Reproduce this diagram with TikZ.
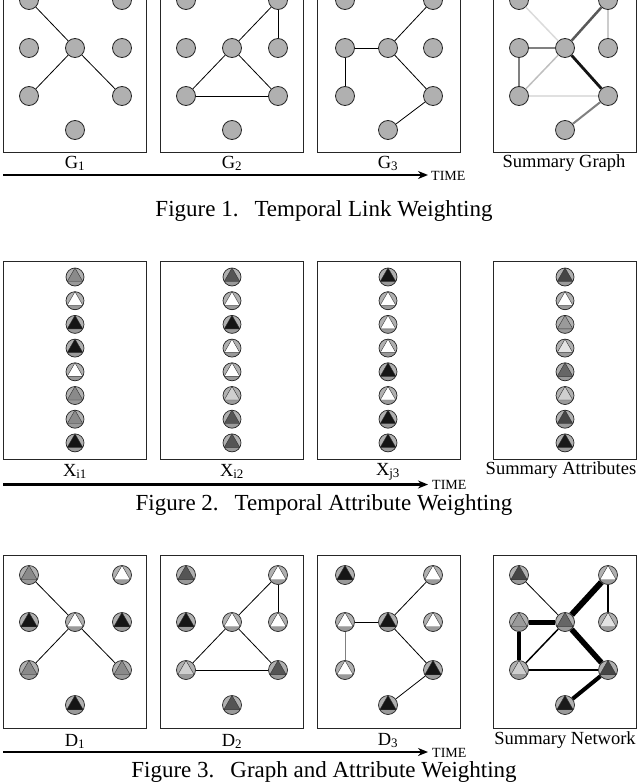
\documentclass[tikz,border=0pt]{standalone}
\usepackage{fontspec}
\setmainfont{Liberation Serif}
\usetikzlibrary{calc,arrows.meta}

\definecolor{nodegray}{HTML}{B0B0B0}
\definecolor{seggray}{HTML}{9A9A9A}
\definecolor{cA}{HTML}{8A8A8A}
\definecolor{cB}{HTML}{555555}
\definecolor{cK}{HTML}{151515}
\definecolor{cL}{HTML}{CFCFCF}
\definecolor{sA}{HTML}{454545}
\definecolor{sB}{HTML}{9A9A9A}
\definecolor{sC}{HTML}{E2E2E2}
\definecolor{sD}{HTML}{666666}
\definecolor{sE}{HTML}{1A1A1A}

\tikzset{
  panelbox/.style={draw=black!85, line width=0.9pt},
  gnode/.style={circle, draw=black!85, line width=0.8pt, fill=nodegray, minimum size=19pt, inner sep=0pt},
  anode/.style={circle, draw=black!85, line width=0.7pt, fill=nodegray, minimum size=19pt, inner sep=0pt,
    path picture={
      \fill[seggray] (path picture bounding box.south west) rectangle ($(path picture bounding box.east)!0.5!(path picture bounding box.south east)$);
      \filldraw[fill=#1, draw=black!80, line width=0.4pt] (path picture bounding box.north)
        -- ($(path picture bounding box.center)!1!120:(path picture bounding box.north)$)
        -- ($(path picture bounding box.center)!1!-120:(path picture bounding box.north)$) -- cycle;
    }},
  linkline/.style={draw=black, line width=0.8pt},
  lbltext/.style={font=\fontsize{18.5}{20}\selectfont, anchor=base, inner sep=0pt},
  captext/.style={font=\fontsize{23}{25}\selectfont, anchor=base, inner sep=0pt},
  timetext/.style={font=\fontsize{14}{16}\selectfont, anchor=base west, inner sep=0pt},
  timearrow/.style={line width=2.4pt, -{Stealth[length=10pt,width=8pt]}},
}

\begin{document}
\begin{tikzpicture}[x=1pt,y=-1pt]
\useasboundingbox (0,0) rectangle (640,784);
\clip (0,0) rectangle (640,784);

% ---------------- Figure 1 ----------------
\foreach \bx in {3,160,317,493} {
  \draw[panelbox] (\bx,-30) rectangle ++(143,182);
}
\foreach \p/\xa/\xb/\xc in {ga/29/75/122, gb/186/232/278, gc/345/388/433, gd/519/565/608} {
  \node[gnode] (\p TL) at (\xa,0) {};
  \node[gnode] (\p TR) at (\xc,0) {};
  \node[gnode] (\p ML) at (\xa,48) {};
  \node[gnode] (\p C) at (\xb,48) {};
  \node[gnode] (\p MR) at (\xc,48) {};
  \node[gnode] (\p BL) at (\xa,96) {};
  \node[gnode] (\p BR) at (\xc,96) {};
  \node[gnode] (\p B) at (\xb,130) {};
}
\draw[linkline] (gaTL) -- (gaC);
\draw[linkline] (gaC) -- (gaBL);
\draw[linkline] (gaC) -- (gaBR);

\draw[linkline] (gbTR) -- (gbC);
\draw[linkline] (gbTR) -- (gbMR);
\draw[linkline] (gbC) -- (gbBL);
\draw[linkline] (gbC) -- (gbBR);
\draw[linkline] (gbBL) -- (gbBR);

\draw[linkline] (gcML) -- (gcC);
\draw[linkline] (gcML) -- (gcBL);
\draw[linkline] (gcC) -- (gcTR);
\draw[linkline] (gcC) -- (gcBR);
\draw[linkline] (gcBR) -- (gcB);

\draw[line width=1.5pt, draw=black!14] (gdTL) -- (gdC);
\draw[line width=2.5pt, draw=black!65] (gdTR) -- (gdC);
\draw[line width=1.5pt, draw=black!20] (gdTR) -- (gdMR);
\draw[line width=2.5pt, draw=black!50] (gdML) -- (gdC);
\draw[line width=2.5pt, draw=black!50] (gdML) -- (gdBL);
\draw[line width=1.5pt, draw=black!25] (gdC) -- (gdBL);
\draw[line width=1.5pt, draw=black!12] (gdBL) -- (gdBR);
\draw[line width=2.8pt, draw=black!92] (gdC) -- (gdBR);
\draw[line width=2pt, draw=black!50] (gdBR) -- (gdB);

\node[lbltext] (lg1) at (75,168) {G\textsubscript{1}};
\node[lbltext] (lg2) at (232,168) {G\textsubscript{2}};
\node[lbltext] (lg3) at (388,168) {G\textsubscript{3}};
\node[lbltext] (lg4) at (564,167) {Summary Graph};

\coordinate (s1) at (3,175);
\coordinate (e1) at (428,175);
\draw[timearrow] (s1) -- (e1);
\node[timetext] (t1) at (431,180.5) {TIME};

\node[captext] (c1) at (324,216) {Figure 1.\hspace{16pt}Temporal Link Weighting};

% ---------------- Figure 2 ----------------
\foreach \bx in {3,160,317,493} {
  \draw[panelbox] (\bx,261) rectangle ++(143,198);
}
\foreach \x/\p/\cl in {75/xa/{cA,white,cK,cK,white,cA,cA,cK},
                       232/xb/{cB,white,cK,white,white,cL,cB,cB},
                       388/xc/{cK,white,white,white,cK,white,cK,cK},
                       565/xd/{sA,white,sB,sC,sD,cL,sA,sE}} {
  \foreach \c [count=\i] in \cl {
    \node[anode=\c, minimum size=18pt] (\p\i) at (\x,{277+(\i-1)*23.7}) {};
  }
}
\node[lbltext] (lx1) at (75,476) {X\textsubscript{i1}};
\node[lbltext] (lx2) at (232,476) {X\textsubscript{i2}};
\node[lbltext] (lx3) at (388,475) {X\textsubscript{j3}};
\node[lbltext] (lx4) at (561,474) {Summary Attributes};

\coordinate (s2) at (3,484.5);
\coordinate (e2) at (428,484.5);
\draw[timearrow] (s2) -- (e2);
\node[timetext] (t2) at (432,489) {TIME};

\node[captext] (c2) at (324,510) {Figure 2.\hspace{16pt}Temporal Attribute Weighting};

% ---------------- Figure 3 ----------------
\foreach \bx in {3,160,317,493} {
  \draw[panelbox] (\bx,555) rectangle ++(143,173);
}
\foreach \p/\xa/\xb/\xc/\ctl/\ctr/\cml/\cmr/\cc/\cbl/\cbr/\cb in {
   da/29/75/122/cA/white/cK/cK/white/cA/cA/cK,
   db/186/232/278/cB/white/cK/white/white/cL/cB/cB,
   dc/345/388/433/cK/white/white/white/cK/white/cK/cK,
   dd/519/565/608/sA/white/sB/sC/sD/cL/sA/sE} {
  \node[anode=\ctl] (\p TL) at (\xa,575) {};
  \node[anode=\ctr] (\p TR) at (\xc,575) {};
  \node[anode=\cml] (\p ML) at (\xa,622) {};
  \node[anode=\cc] (\p C) at (\xb,622) {};
  \node[anode=\cmr] (\p MR) at (\xc,622) {};
  \node[anode=\cbl] (\p BL) at (\xa,670) {};
  \node[anode=\cbr] (\p BR) at (\xc,670) {};
  \node[anode=\cb] (\p B) at (\xb,705) {};
}
\draw[linkline] (daTL) -- (daC);
\draw[linkline] (daC) -- (daBL);
\draw[linkline] (daC) -- (daBR);

\draw[linkline] (dbTR) -- (dbC);
\draw[linkline] (dbTR) -- (dbMR);
\draw[linkline] (dbC) -- (dbBL);
\draw[linkline] (dbC) -- (dbBR);
\draw[linkline] (dbBL) -- (dbBR);

\draw[linkline] (dcML) -- (dcC);
\draw[linkline, draw=black!50] (dcML) -- (dcBL);
\draw[linkline] (dcC) -- (dcTR);
\draw[linkline] (dcC) -- (dcBR);
\draw[linkline] (dcBR) -- (dcB);

\draw[line width=0.8pt] (ddTL) -- (ddC);
\draw[line width=6pt] (ddTR) -- (ddC);
\draw[line width=1.3pt] (ddTR) -- (ddMR);
\draw[line width=5pt] (ddML) -- (ddC);
\draw[line width=3.5pt] (ddML) -- (ddBL);
\draw[line width=1.5pt] (ddC) -- (ddBL);
\draw[line width=1.8pt] (ddBL) -- (ddBR);
\draw[line width=5.5pt] (ddC) -- (ddBR);
\draw[line width=4pt] (ddBR) -- (ddB);

\node[lbltext] (ld1) at (75,746) {D\textsubscript{1}};
\node[lbltext] (ld2) at (232,746) {D\textsubscript{2}};
\node[lbltext] (ld3) at (388,745) {D\textsubscript{3}};
\node[lbltext] (ld4) at (565,744) {Summary Network};

\coordinate (s3) at (3,752);
\coordinate (e3) at (428,752);
\draw[timearrow] (s3) -- (e3);
\node[timetext] (t3) at (432,757.5) {TIME};

\node[captext] (c3) at (324,777.5) {Figure 3.\hspace{16pt}Graph and Attribute Weighting};
\end{tikzpicture}
\end{document}
